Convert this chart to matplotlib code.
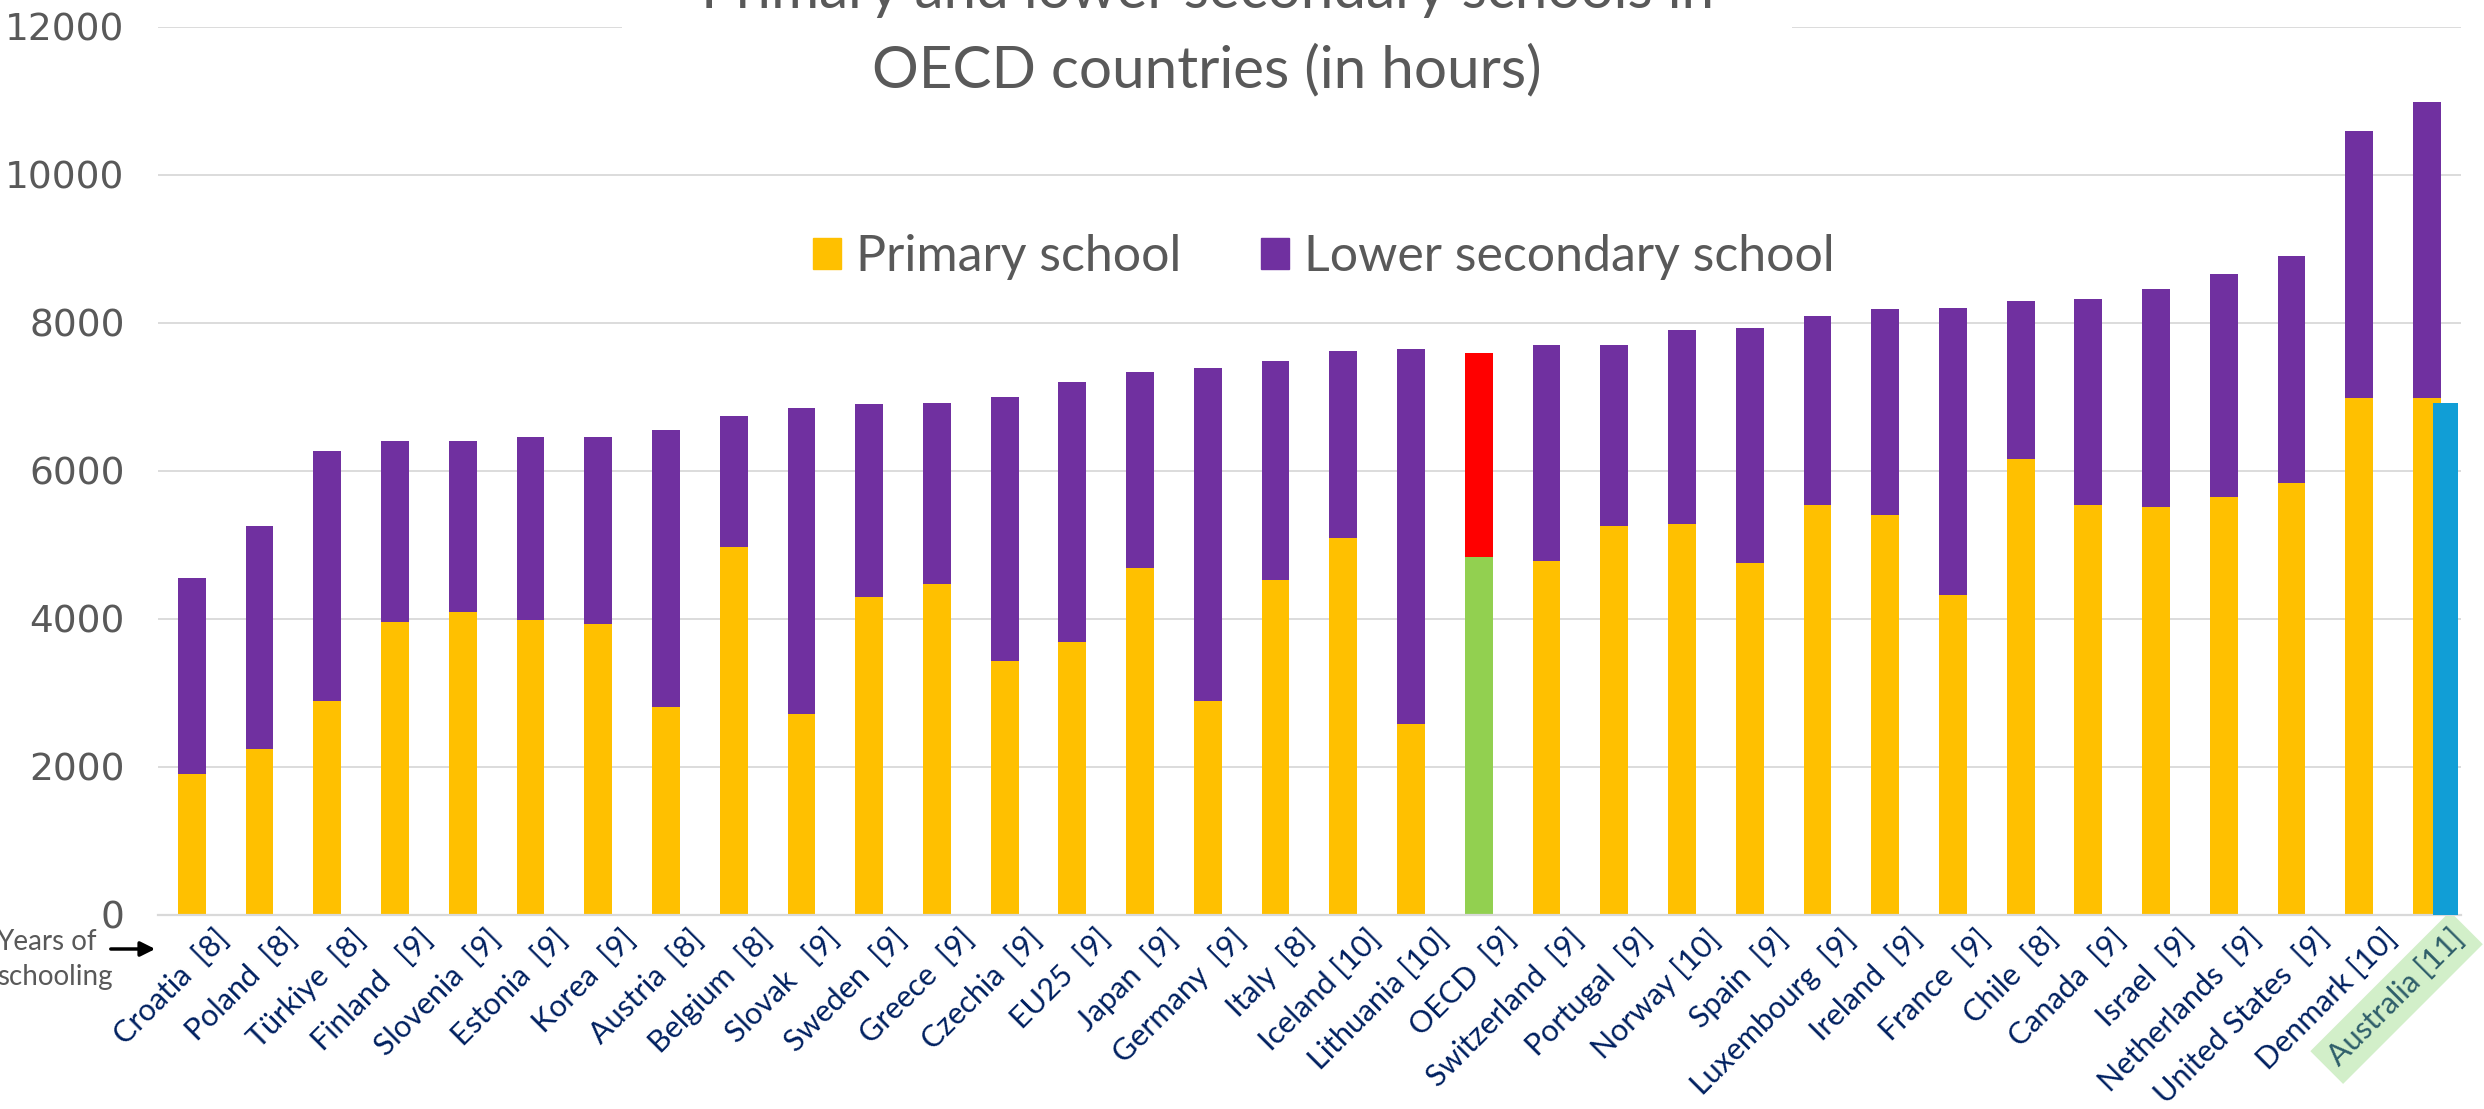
import matplotlib
matplotlib.use("Agg")
import matplotlib.pyplot as plt
from matplotlib.patches import Patch, Rectangle
from matplotlib.transforms import ScaledTranslation

countries = ["Croatia  [8]", "Poland  [8]", "Türkiye  [8]", "Finland   [9]", "Slovenia  [9]",
             "Estonia  [9]", "Korea  [9]", "Austria  [8]", "Belgium  [8]", "Slovak   [9]",
             "Sweden  [9]", "Greece  [9]", "Czechia  [9]", "EU25  [9]", "Japan  [9]",
             "Germany  [9]", "Italy  [8]", "Iceland [10]", "Lithuania [10]", "OECD  [9]",
             "Switzerland  [9]", "Portugal  [9]", "Norway [10]", "Spain  [9]", "Luxembourg  [9]",
             "Ireland  [9]", "France  [9]", "Chile  [8]", "Canada  [9]", "Israel  [9]",
             "Netherlands  [9]", "United States  [9]", "Denmark [10]", "Australia [11]"]
primary = [1900, 2240, 2890, 3960, 4090, 3980, 3930, 2805, 4970, 2710,
           4290, 4470, 3430, 3685, 4685, 2890, 4520, 5090, 2575, 4835,
           4780, 5250, 5280, 4750, 5535, 5400, 4320, 6155, 5535, 5510,
           5645, 5840, 6980, 6980]
lower_secondary = [2650, 3010, 3380, 2440, 2310, 2475, 2525, 3745, 1770, 4135,
                   2610, 2445, 3565, 3515, 2650, 4495, 2960, 2525, 5070, 2755,
                   2920, 2450, 2620, 3180, 2555, 2785, 3880, 2140, 2785, 2945,
                   3015, 3065, 3610, 4000]
# single extra bar next to Australia
extra_country = "Australia [11]"
extra_value = 6920

YELLOW = "#FFC000"
PURPLE = "#7030A0"
GREY = "#595959"
NAVY = "#002060"

fig = plt.figure(figsize=(24.84, 11.09), dpi=100)
ax = fig.add_axes([0.0636, 0.1752, 0.9271, 0.8007])

x = list(range(len(countries)))
p_colors = ["#92D050" if c.startswith("OECD") else YELLOW for c in countries]
l_colors = ["#FF0000" if c.startswith("OECD") else PURPLE for c in countries]
ax.bar(x, primary, width=0.41, color=p_colors, zorder=2)
ax.bar(x, lower_secondary, width=0.41, bottom=primary, color=l_colors, zorder=2)
ia = countries.index(extra_country)
ax.bar(ia + 0.27, extra_value, width=0.37, color="#119ED6", zorder=3)

ax.set_xlim(-0.5, 33.5)
ax.set_ylim(0, 12000)
ax.set_yticks(range(0, 12001, 2000))
ax.grid(axis="y", color="#D9D9D9", linewidth=1.3)
ax.set_axisbelow(True)
for s in ["top", "right", "left"]:
    ax.spines[s].set_visible(False)
ax.spines["bottom"].set_color("#D9D9D9")
ax.spines["bottom"].set_linewidth(1.6)
ax.tick_params(axis="both", length=0)
ax.tick_params(axis="y", pad=24, labelsize=27, labelcolor=GREY)
for lab in ax.get_yticklabels():
    lab.set_fontfamily("DejaVu Sans")

ax.set_xticks(x)
ax.set_xticklabels(countries, rotation=45, ha="right", va="top", rotation_mode="anchor",
                   fontsize=22, color=NAVY, family="Lato")
ax.tick_params(axis="x", pad=7)
shift = ScaledTranslation(23 / 100, 0, fig.dpi_scale_trans)
for lab in ax.get_xticklabels():
    lab.set_transform(lab.get_transform() + shift)
    if lab.get_text() == extra_country:
        lab.set_color("#2E5E6A")
        lab.set_bbox(dict(boxstyle="square,pad=0.3", fc="#D2EFC9", ec="none"))

# title with white background over the top gridline
fig.add_artist(Rectangle((0.2504, 0.892), 0.471, 0.11, transform=fig.transFigure,
                         facecolor="white", edgecolor="none", zorder=1))
fig.text(0.486, 0.9928, "Primary and lower secondary schools in", ha="center", va="baseline",
         fontsize=42, color=GREY, family="Lato", zorder=3)
fig.text(0.486, 0.9215, "OECD countries (in hours)", ha="center", va="baseline",
         fontsize=42, color=GREY, family="Lato", zorder=3)

handles = [Patch(color=YELLOW, label="Primary school"),
           Patch(color=PURPLE, label="Lower secondary school")]
leg = fig.legend(handles=handles, loc="center", bbox_to_anchor=(0.533, 0.768), ncol=2,
                 frameon=False, handlelength=0.56, handleheight=0.56,
                 handletextpad=0.3, columnspacing=1.6,
                 prop={"family": "Lato", "size": 36})
for t in leg.get_texts():
    t.set_color(GREY)

fig.text(-0.0016, 1 - 950 / 1109, "Years of", ha="left", va="baseline",
         fontsize=20, color=GREY, family="Lato")
fig.text(-0.0012, 1 - 985 / 1109, "schooling", ha="left", va="baseline",
         fontsize=20, color=GREY, family="Lato")
ax.annotate("", xy=(158, 1109 - 949), xytext=(108, 1109 - 949),
            xycoords="figure pixels", textcoords="figure pixels",
            arrowprops=dict(arrowstyle="-|>", color="black", lw=2.5, mutation_scale=22),
            annotation_clip=False)

fig.savefig("out.png", dpi=100)
